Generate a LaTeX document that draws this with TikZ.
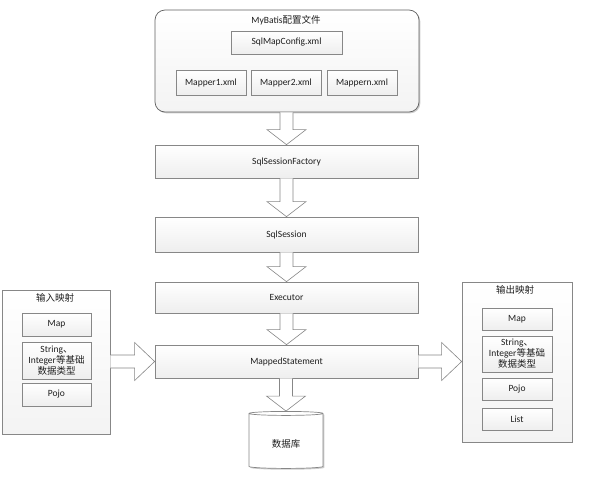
\documentclass[tikz,border=0pt]{standalone}
\usepackage{fontspec}
\setmainfont{Carlito}
\newfontfamily\cjk{Noto Sans CJK SC}
\usetikzlibrary{calc,shadows,shapes.geometric}
\definecolor{boxline}{RGB}{135,135,135}
\definecolor{contline}{RGB}{95,95,95}
\definecolor{boxbot}{RGB}{238,238,238}
\definecolor{txt}{RGB}{30,30,30}
\newcommand\mainsize{\fontsize{9.5}{11}\selectfont}
\newcommand\vblockarrow[2]{%
  \filldraw[arrowst] ($(#1.south -| #2.north)+(-6.5,0)$) -- ($(#2.north)+(-6.5,-15)$) -- ($(#2.north)+(-19.5,-15)$) -- (#2.north) -- ($(#2.north)+(19.5,-15)$) -- ($(#2.north)+(6.5,-15)$) -- ($(#1.south -| #2.north)+(6.5,0)$);}
\newcommand\hblockarrowR[2]{%
  \filldraw[arrowst] ($(#1.east |- #2.west)+(0,-6.5)$) -- ($(#2.west)+(-20,-6.5)$) -- ($(#2.west)+(-20,-19)$) -- (#2.west) -- ($(#2.west)+(-20,19)$) -- ($(#2.west)+(-20,6.5)$) -- ($(#1.east |- #2.west)+(0,6.5)$);}
\newcommand\hblockarrowL[2]{%
  \filldraw[arrowst] ($(#1.east |- #1.center)+(0,-6.5)$) -- ($(#2.west |- #1.center)+(-20,-6.5)$) -- ($(#2.west |- #1.center)+(-20,-19)$) -- (#2.west |- #1.center) -- ($(#2.west |- #1.center)+(-20,19)$) -- ($(#2.west |- #1.center)+(-20,6.5)$) -- ($(#1.east |- #1.center)+(0,6.5)$);}
\begin{document}
\begin{tikzpicture}[x=1pt,y=-1pt,
  every node/.style={text=txt, font=\mainsize},
  box/.style={draw=boxline, line width=0.7pt, top color=white, bottom color=boxbot,
    drop shadow={shadow xshift=1.3pt, shadow yshift=-1.3pt, opacity=0.25, fill=black},
    inner sep=1pt, align=center},
  cont/.style={draw=boxline, line width=0.7pt, top color=white, bottom color=boxbot!70,
    drop shadow={shadow xshift=1.3pt, shadow yshift=-1.3pt, opacity=0.2, fill=black}},
  arrowst/.style={fill=white, draw=boxline, line width=0.6pt, line join=miter},
  ttl/.style={inner sep=0pt}]
\useasboundingbox (0,0) rectangle (607,482);

% top container
\node[cont, draw=contline, rounded corners=10pt, minimum width=264pt, minimum height=102pt] (cfg) at (287,61) {};
\node[ttl] (cfgtitle) at (286,20) {MyBatis{\cjk 配置文件}};
\node[box, minimum width=111pt, minimum height=23pt] (smc) at (286.5,42.5) {SqlMapConfig.xml};
\node[box, minimum width=70pt, minimum height=25pt] (m1) at (211,82.5) {Mapper1.xml};
\node[box, minimum width=70pt, minimum height=25pt] (m2) at (286,82.5) {Mapper2.xml};
\node[box, minimum width=70pt, minimum height=25pt] (mn) at (362,82.5) {Mappern.xml};

% main column
\node[box, minimum width=263pt, minimum height=33pt] (fac) at (286.5,161.5) {SqlSessionFactory};
\node[box, minimum width=263pt, minimum height=35pt] (ses) at (286.5,234.5) {SqlSession};
\node[box, minimum width=263pt, minimum height=31pt] (exe) at (286.5,297.5) {Executor};
\node[box, minimum width=263pt, minimum height=33pt] (ms) at (286.5,361.5) {MappedStatement};
\node[cylinder, shape border rotate=90, aspect=0.6, draw=boxline, line width=0.7pt,
  fill=white, minimum width=74pt, minimum height=57pt,
  drop shadow={shadow xshift=1.3pt, shadow yshift=-1.3pt, opacity=0.2, fill=black}] (db) at (286,441.5) {};
\node[ttl] (dbt) at (286,444) {\cjk 数据库};

% left container
\node[cont, minimum width=108pt, minimum height=144pt] (lin) at (56,362) {};
\node[ttl] (lintitle) at (55,298) {\cjk 输入映射};
\node[box, minimum width=69pt, minimum height=23pt] (lmap) at (56.5,324.5) {Map};
\node[box, minimum width=69pt, minimum height=37pt] (lstr) at (56.5,360.5) {\fontsize{9.5}{11.5}\selectfont String{\cjk 、}\\Integer{\cjk 等基础}\\{\cjk 数据类型}};
\node[box, minimum width=69pt, minimum height=23pt] (lpojo) at (56.5,394.5) {Pojo};

% right container
\node[cont, minimum width=110pt, minimum height=160pt] (rout) at (517,362) {};
\node[ttl] (routtitle) at (515,290) {\cjk 输出映射};
\node[box, minimum width=70pt, minimum height=22pt] (rmap) at (517,319) {Map};
\node[box, minimum width=70pt, minimum height=36pt] (rstr) at (517,354) {\fontsize{9.5}{11.5}\selectfont String{\cjk 、}\\Integer{\cjk 等基础}\\{\cjk 数据类型}};
\node[box, minimum width=70pt, minimum height=22pt] (rpojo) at (517,389) {Pojo};
\node[box, minimum width=70pt, minimum height=22pt] (rlist) at (517,419) {List};

% block arrows
\vblockarrow{cfg}{fac}
\vblockarrow{fac}{ses}
\vblockarrow{ses}{exe}
\vblockarrow{exe}{ms}
\vblockarrow{ms}{db}
\hblockarrowL{ms}{rout}
\hblockarrowR{lin}{ms}
\end{tikzpicture}
\end{document}
